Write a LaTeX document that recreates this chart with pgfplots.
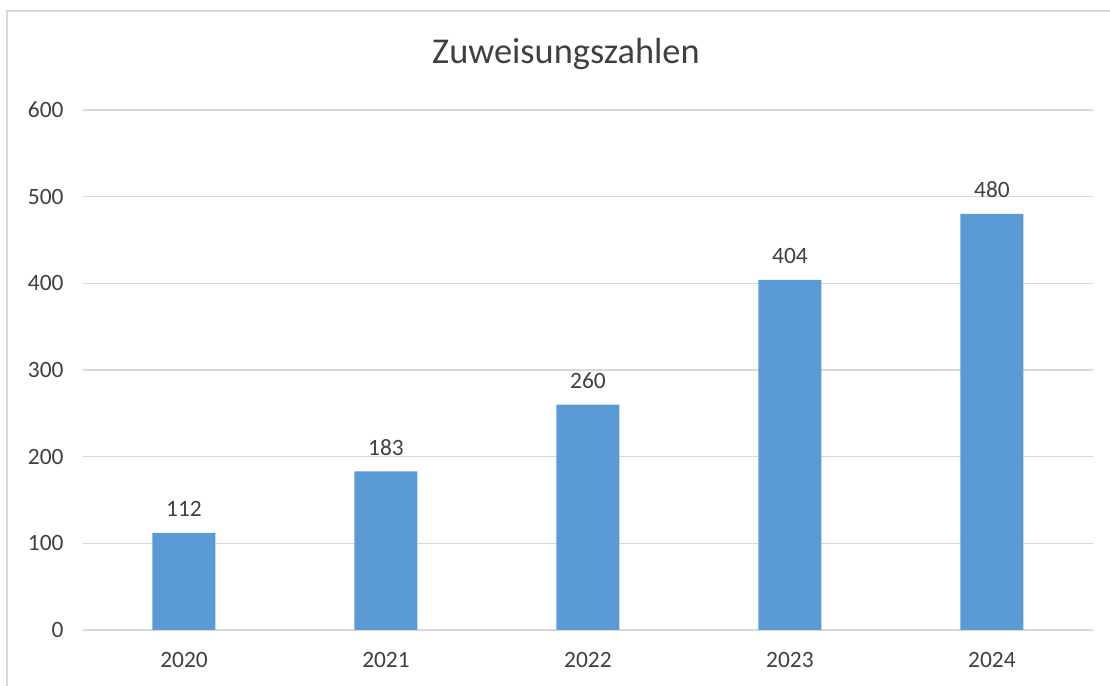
\documentclass[border=0pt]{standalone}
\usepackage{fontspec}
\setmainfont{Carlito}
\usepackage{pgfplots}
\pgfplotsset{compat=1.18}
\definecolor{barblue}{HTML}{5B9BD5}
\definecolor{txt}{HTML}{404040}
\definecolor{gridc}{HTML}{D9D9D9}
\begin{document}
\begin{tikzpicture}[x=1bp,y=1bp]
\useasboundingbox (0,0) rectangle (1110,686);
\begin{scope}
\clip (0,0) rectangle (1110,686);
\draw[gridc, line width=1.5bp] (7,675) rectangle (1130,-20);
\end{scope}
\node[anchor=base, text=txt, font=\fontsize{36.5}{42}\selectfont] at (566,622) {Zuweisungszahlen};
\begin{axis}[
  at={(83bp,56bp)}, anchor=south west,
  width=1010bp, height=520bp, scale only axis,
  xmin=-0.5, xmax=4.5, ymin=0, ymax=600,
  ytick={0,100,...,600},
  xtick=data,
  xticklabels={2020,2021,2022,2023,2024},
  separate axis lines,
  axis x line*=bottom,
  axis y line*=left,
  y axis line style={draw=none},
  x axis line style={gridc, line width=1.2bp, -},
  ymajorgrids, grid style={gridc, line width=1.2bp},
  major tick length=0pt,
  tick style={draw=none},
  /pgf/number format/assume math mode=true,
  ticklabel style={text=txt, font=\fontsize{23.5}{27}\selectfont},
  yticklabel style={anchor=east, xshift=-16bp},
  xticklabel style={anchor=base, yshift=-38bp},
  ybar, bar width=63bp,
  nodes near coords,
  every node near coord/.append style={anchor=base, yshift=16bp, text=txt, font=\fontsize{23.5}{27}\selectfont},
  clip=false,
]
\addplot[fill=barblue, draw=none] coordinates {(0,112) (1,183) (2,260) (3,404) (4,480)};
\end{axis}
\end{tikzpicture}
\end{document}
